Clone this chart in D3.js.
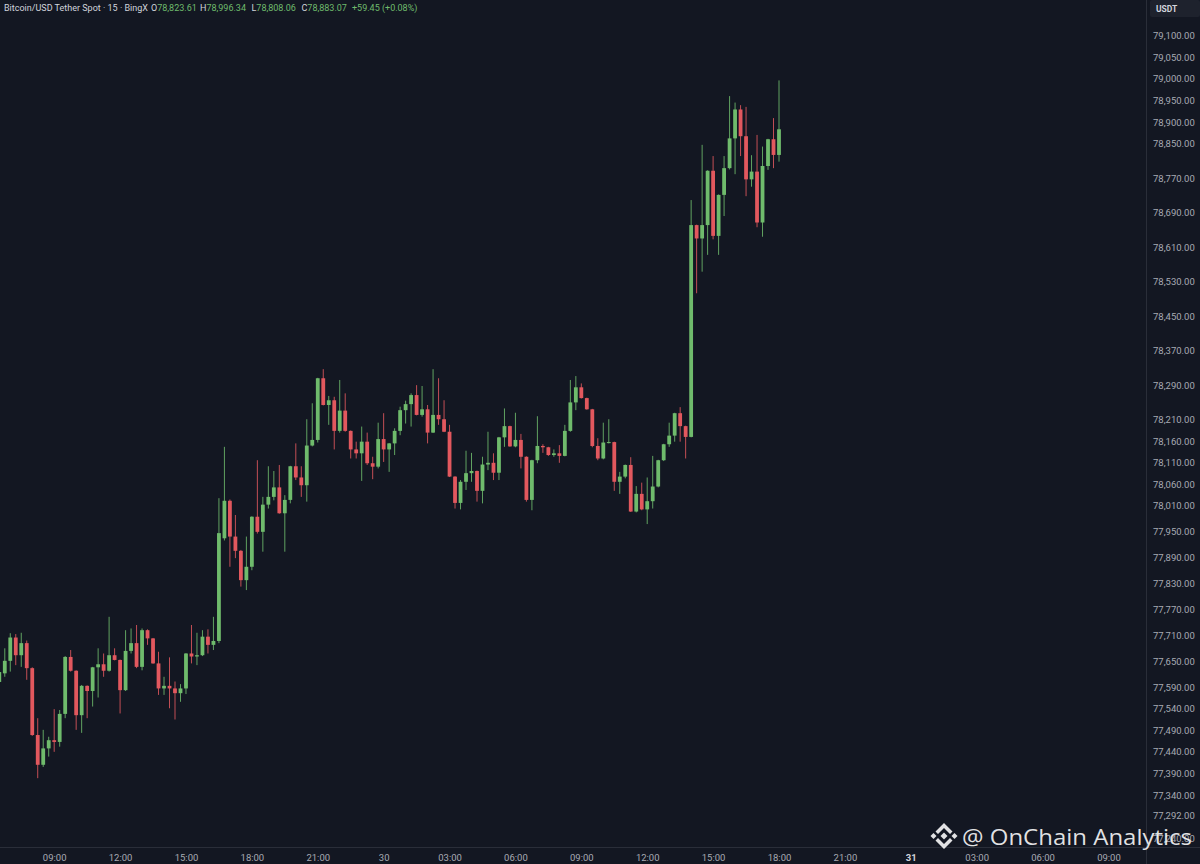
<!DOCTYPE html>
<html>
<head>
<meta charset="utf-8">
<script src="https://cdn.jsdelivr.net/npm/d3@7"></script>
<style>
  html, body { margin: 0; padding: 0; background: #131722; }
  svg { display: block; }
</style>
</head>
<body>
<div id="chart"></div>
<script>
var svgWidth = 1200;
var svgHeight = 864;

// plot area edges (price scale on the right, time scale at the bottom)
var plotRight = 1146;
var plotBottom = 847;

// 15 minute bars, bar 0 = 09:00 on the 29th
var firstBar = -10;

var opens = [
  77602, 77622, 77651, 77705, 77664, 77692, 77634, 77479, 77410, 77448,
  77467, 77463, 77528, 77660, 77628, 77525, 77593, 77581, 77636, 77643,
  77628, 77664, 77653, 77583, 77674, 77692, 77637, 77722, 77703, 77645,
  77587, 77593, 77587, 77576, 77587, 77668, 77661, 77664, 77707, 77688,
  77697, 77935, 78022, 77939, 77906, 77838, 77869, 77985, 77950, 78013,
  78031, 78053, 77993, 78024, 78102, 78076, 78058, 78150, 78163, 78306,
  78244, 78255, 78184, 78231, 78184, 78141, 78132, 78159, 78109, 78101,
  78165, 78141, 78155, 78184, 78232, 78246, 78267, 78221, 78234, 78180,
  78221, 78211, 78182, 78078, 78017, 78066, 78086, 78091, 78045, 78106,
  78110, 78087, 78169, 78195, 78148, 78163, 78124, 78024, 78116, 78149,
  78146, 78128, 78132, 78126, 78184, 78250, 78285, 78260, 78234, 78149,
  78120, 78156, 78158, 78066, 78078, 78105, 77997, 78038, 78002, 78021,
  78055, 78116, 78153, 78173, 78225, 78195, 78170, 78661, 78630, 78661,
  78787, 78636, 78731, 78793, 78862, 78929, 78867, 78767, 78785, 78667,
  78798, 78860, 78823.61
];
var highs = [
  77634, 77680, 77715, 77713, 77716, 77698, 77636, 77518, 77491, 77475,
  77539, 77537, 77662, 77676, 77629, 77595, 77594, 77637, 77680, 77668,
  77753, 77680, 77654, 77722, 77726, 77734, 77726, 77724, 77704, 77672,
  77614, 77659, 77603, 77597, 77669, 77734, 77716, 77722, 77724, 77753,
  78028, 78147, 78025, 77989, 77908, 77939, 77986, 78116, 78031, 78102,
  78091, 78105, 78035, 78103, 78155, 78102, 78211, 78248, 78307, 78327,
  78265, 78263, 78302, 78271, 78185, 78159, 78194, 78180, 78124, 78203,
  78225, 78156, 78190, 78240, 78254, 78271, 78290, 78288, 78244, 78327,
  78306, 78255, 78198, 78079, 78070, 78138, 78133, 78092, 78124, 78182,
  78132, 78170, 78236, 78196, 78226, 78177, 78125, 78117, 78218, 78153,
  78147, 78141, 78151, 78198, 78302, 78311, 78294, 78261, 78235, 78167,
  78203, 78211, 78159, 78089, 78106, 78123, 78056, 78064, 78076, 78126,
  78117, 78154, 78203, 78226, 78239, 78196, 78719, 78662, 78847, 78788,
  78821, 78732, 78821, 78960, 78945, 78939, 78935, 78823, 78870, 78843,
  78861, 78909, 78996.34
];
var lows = [
  77597, 77614, 77626, 77641, 77637, 77607, 77477, 77379, 77405, 77429,
  77440, 77452, 77518, 77626, 77491, 77484, 77518, 77545, 77566, 77614,
  77626, 77652, 77529, 77581, 77668, 77634, 77629, 77688, 77644, 77572,
  77572, 77541, 77515, 77556, 77574, 77645, 77641, 77662, 77668, 77676,
  77692, 77930, 77869, 77889, 77823, 77815, 77861, 77946, 77904, 78004,
  78023, 77992, 77904, 78016, 78070, 78031, 78020, 78148, 78157, 78243,
  78198, 78141, 78180, 78182, 78120, 78120, 78068, 78105, 78072, 78097,
  78112, 78089, 78128, 78174, 78201, 78194, 78220, 78217, 78155, 78179,
  78198, 78181, 78077, 78004, 78002, 78047, 78066, 78020, 78016, 78093,
  78070, 78070, 78147, 78147, 78146, 78097, 78020, 78000, 78109, 78133,
  78126, 78124, 78110, 78125, 78182, 78232, 78259, 78233, 78146, 78116,
  78118, 78155, 78045, 78038, 78074, 77996, 77995, 78000, 77968, 78004,
  78053, 78114, 78147, 78159, 78159, 78120, 78169, 78503, 78553, 78592,
  78628, 78592, 78682, 78790, 78779, 78821, 78728, 78750, 78656, 78634,
  78789, 78793, 78808.06
];
var closes = [
  77625, 77651, 77705, 77664, 77692, 77634, 77479, 77410, 77448, 77467,
  77463, 77528, 77660, 77628, 77525, 77593, 77581, 77636, 77643, 77628,
  77664, 77653, 77583, 77674, 77692, 77637, 77722, 77703, 77645, 77587,
  77593, 77587, 77576, 77587, 77668, 77661, 77664, 77707, 77688, 77697,
  77947, 78022, 77939, 77906, 77838, 77869, 77985, 77950, 78013, 78031,
  78053, 77993, 78024, 78102, 78076, 78058, 78150, 78163, 78306, 78244,
  78255, 78184, 78231, 78184, 78141, 78132, 78159, 78109, 78101, 78165,
  78141, 78155, 78184, 78232, 78246, 78267, 78221, 78234, 78180, 78221,
  78211, 78182, 78078, 78017, 78066, 78086, 78091, 78045, 78106, 78110,
  78087, 78169, 78195, 78148, 78163, 78124, 78024, 78116, 78149, 78146,
  78128, 78132, 78126, 78184, 78250, 78285, 78260, 78234, 78149, 78120,
  78157, 78158, 78066, 78078, 78105, 77997, 78038, 78002, 78021, 78055,
  78116, 78153, 78173, 78225, 78195, 78170, 78661, 78630, 78661, 78787,
  78636, 78731, 78793, 78862, 78929, 78867, 78767, 78785, 78667, 78798,
  78860, 78823.62, 78883.07
];

var priceTicks = [
  79100, 79050, 79000, 78950, 78900, 78850, 78770, 78690, 78610, 78530,
  78450, 78370, 78290, 78210, 78160, 78110, 78060, 78010, 77950, 77890,
  77830, 77770, 77710, 77650, 77590, 77540, 77490, 77440, 77390, 77340,
  77292, 77240
];

var timeTickBars = [0, 12, 24, 36, 48, 60, 72, 84, 96, 108, 120, 132, 144, 156, 168, 180, 192];
var timeTickLabels = ["09:00", "12:00", "15:00", "18:00", "21:00", "30", "03:00", "06:00",
  "09:00", "12:00", "15:00", "18:00", "21:00", "31", "03:00", "06:00", "09:00"];

var upColor = "#6fbb6c";
var downColor = "#e2585e";
var textColor = "#a7aab3";
var font = "Roboto, 'Noto Sans', sans-serif";

var candles = opens.map(function(o, i) {
  return { bar: firstBar + i, open: o, high: highs[i], low: lows[i], close: closes[i] };
});

var svg = d3.select("#chart")
  .append("svg")
  .attr("width", svgWidth)
  .attr("height", svgHeight);

svg.append("rect")
  .attr("width", svgWidth)
  .attr("height", svgHeight)
  .attr("fill", "#131722");

// scales
var xScale = d3.scaleLinear()
  .domain([0, 132])
  .range([54.2, 779]);

var yScale = d3.scaleLinear()
  .domain([77292, 79100])
  .range([815.7, 35.7]);

svg.append("clipPath")
  .attr("id", "plotClip")
  .append("rect")
  .attr("x", 0)
  .attr("y", 0)
  .attr("width", plotRight)
  .attr("height", plotBottom);

var plot = svg.append("g").attr("clip-path", "url(#plotClip)");

var bodyWidth = 3.8;

// wicks
plot.selectAll(".wick")
  .data(candles)
  .enter()
  .append("line")
  .classed("wick", true)
  .attr("x1", d => xScale(d.bar))
  .attr("x2", d => xScale(d.bar))
  .attr("y1", d => yScale(d.high))
  .attr("y2", d => yScale(d.low))
  .attr("stroke", d => d.close >= d.open ? upColor : downColor)
  .attr("stroke-opacity", 0.85)
  .attr("stroke-width", 1);

// bodies
plot.selectAll(".body")
  .data(candles)
  .enter()
  .append("rect")
  .classed("body", true)
  .attr("x", d => xScale(d.bar) - bodyWidth / 2)
  .attr("y", d => yScale(Math.max(d.open, d.close)))
  .attr("width", bodyWidth)
  .attr("height", d => Math.max(1, Math.abs(yScale(d.open) - yScale(d.close))))
  .attr("fill", d => d.close >= d.open ? upColor : downColor);

// price scale
var rightAxis = d3.axisRight(yScale)
  .tickValues(priceTicks)
  .tickSize(0)
  .tickPadding(7)
  .tickFormat(d3.format(",.2f"));

var yAxis = svg.append("g")
  .attr("transform", `translate(${plotRight}, 0)`)
  .call(rightAxis);

yAxis.select(".domain").remove();
yAxis.selectAll("text")
  .attr("fill", textColor)
  .attr("font-family", font)
  .attr("font-size", "9.5px");

// time scale
var bottomAxis = d3.axisBottom(xScale)
  .tickValues(timeTickBars)
  .tickSize(0)
  .tickPadding(7)
  .tickFormat((d, i) => timeTickLabels[i]);

var xAxis = svg.append("g")
  .attr("transform", `translate(0, ${plotBottom})`)
  .call(bottomAxis);

xAxis.select(".domain").remove();
xAxis.selectAll("text")
  .attr("fill", d => timeTickLabels[timeTickBars.indexOf(d)] === "31" ? "#d1d4dc" : textColor)
  .attr("font-weight", d => timeTickLabels[timeTickBars.indexOf(d)] === "31" ? "bold" : "normal")
  .attr("font-family", font)
  .attr("font-size", "9.5px");

// separators between plot and scales
svg.append("line")
  .attr("x1", plotRight + 0.5).attr("x2", plotRight + 0.5)
  .attr("y1", 0).attr("y2", svgHeight)
  .attr("stroke", "#2a2e39").attr("stroke-width", 1);

svg.append("line")
  .attr("x1", 0).attr("x2", svgWidth)
  .attr("y1", plotBottom + 0.5).attr("y2", plotBottom + 0.5)
  .attr("stroke", "#2a2e39").attr("stroke-width", 1);

// currency box
svg.append("rect")
  .attr("x", 1150).attr("y", 0)
  .attr("width", 50).attr("height", 17)
  .attr("rx", 2)
  .attr("fill", "#1e222d");

svg.append("text")
  .attr("x", 1156).attr("y", 11.5)
  .attr("fill", "#d1d4dc")
  .attr("font-family", font)
  .attr("font-weight", "bold")
  .attr("font-size", "8.5px")
  .text("USDT");

// legend line at top left
var last = candles[candles.length - 1];
var prevClose = closes[closes.length - 2];
var change = last.close - prevClose;
var fmt = d3.format(",.2f");

var legend = svg.append("text")
  .attr("y", 11)
  .attr("font-family", font)
  .attr("font-size", "9px");

legend.append("tspan").attr("x", 4).attr("fill", "#d1d4dc")
  .text("Bitcoin/USD Tether Spot · 15 · BingX");

var legendItems = [
  ["O", last.open, 151],
  ["H", last.high, 200],
  ["L", last.low, 251.5],
  ["C", last.close, 301.5]
];
legendItems.forEach(function(item) {
  legend.append("tspan").attr("x", item[2]).attr("fill", "#d1d4dc").text(item[0]);
  legend.append("tspan").attr("fill", upColor).text(fmt(item[1]));
});
legend.append("tspan").attr("x", 352).attr("fill", upColor)
  .text((change >= 0 ? "+" : "") + fmt(change) + " (" + (change >= 0 ? "+" : "") +
    d3.format(".2f")(change / prevClose * 100) + "%)");

// watermark
var mark = svg.append("g")
  .attr("transform", "translate(944, 836)")
  .attr("fill", "#ffffff")
  .attr("fill-opacity", 0.88);

var logoShapes = [
  [[0, -13], [8.5, -4.5], [6, -2], [0, -8], [-6, -2], [-8.5, -4.5]],
  [[0, 13], [8.5, 4.5], [6, 2], [0, 8], [-6, 2], [-8.5, 4.5]],
  [[0, -3.5], [3.5, 0], [0, 3.5], [-3.5, 0]],
  [[-10.5, -3], [-7.5, 0], [-10.5, 3], [-13.5, 0]],
  [[10.5, -3], [13.5, 0], [10.5, 3], [7.5, 0]]
];
mark.selectAll("path")
  .data(logoShapes)
  .enter()
  .append("path")
  .attr("d", d => "M" + d.join("L") + "Z");

svg.append("text")
  .attr("x", 962)
  .attr("y", 845)
  .attr("fill", "#ffffff")
  .attr("fill-opacity", 0.88)
  .attr("font-family", "'Open Sans', 'Noto Sans', sans-serif")
  .attr("font-size", "22px")
  .attr("textLength", 230)
  .attr("lengthAdjust", "spacingAndGlyphs")
  .text("@ OnChain Analytics");
</script>
</body>
</html>
